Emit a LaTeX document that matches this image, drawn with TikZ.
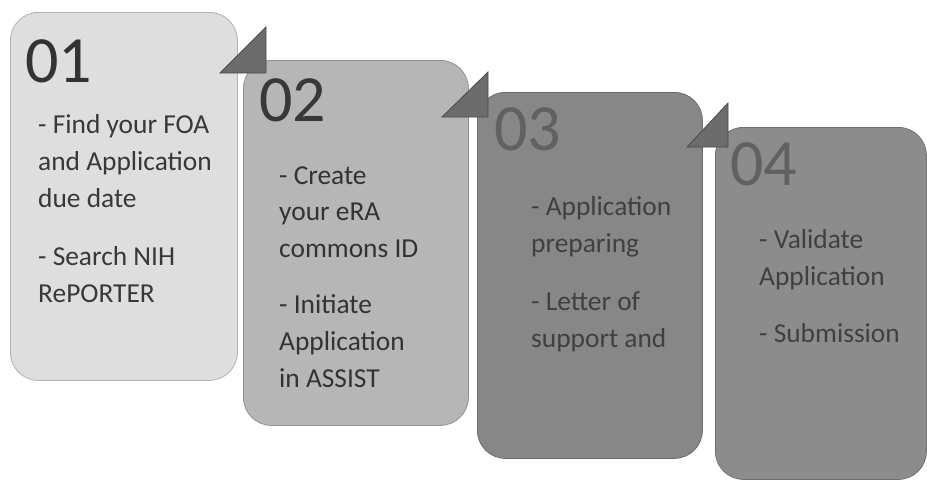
\documentclass[tikz,border=0pt]{standalone}
\usepackage{fontspec}
\setmainfont{Carlito}
\begin{document}
\begin{tikzpicture}[x=1pt,y=-1pt,
  stepbox/.style={draw=#1!80!black, line width=0.8pt, rounded corners=28pt, anchor=north west, inner sep=0pt},
  num/.style={anchor=base west, inner sep=0pt, font=\fontsize{66}{66}\selectfont},
  body/.style={anchor=base west, inner sep=0pt, align=left, font=\fontsize{27.4}{36.8}\selectfont},
  tri/.style={fill=tric, draw=black!70, line width=0.8pt, line join=miter}
]
\definecolor{c1}{HTML}{DEDEDE}
\definecolor{c2}{HTML}{B6B6B6}
\definecolor{c3}{HTML}{878787}
\definecolor{c4}{HTML}{8C8C8C}
\definecolor{tric}{HTML}{6C6C6C}
\useasboundingbox (0,0) rectangle (927,480);
\fill[white] (0,0) rectangle (927,480);
% boxes
\node[stepbox=c1, fill=c1, minimum width=227pt, minimum height=368pt] (b1) at (10,12) {};
\node[stepbox=c2, fill=c2, minimum width=225pt, minimum height=365pt] (b2) at (243,60) {};
\node[stepbox=c3, fill=c3, minimum width=225pt, minimum height=366pt] (b3) at (477,92) {};
\node[stepbox=c4, fill=c4, minimum width=211pt, minimum height=352pt] (b4) at (715,127) {};
% triangles
\coordinate (t1) at (266,73);
\coordinate (t2) at (488,117);
\coordinate (t3) at (728,147);
\filldraw[tri] (t1) -- ++(-46,0) -- ++(46,-46) -- cycle;
\filldraw[tri] (t2) -- ++(-46,0) -- ++(46,-45) -- cycle;
\filldraw[tri] (t3) -- ++(-41,0) -- ++(41,-44) -- cycle;
% numbers
\node[num, text=black!80] (n1) at (25,82) {01};
\node[num, text=black!78] (n2) at (259,121) {02};
\node[num, text=black!62] (n3) at (494,150) {03};
\node[num, text=black!62] (n4) at (730,185) {04};
% bodies (anchored at the baseline of their last line)
\node[body, text=black!78] (x1) at (38,302) {- Find your FOA\\and Application\\due date\\[21pt]- Search NIH\\RePORTER};
\node[body, text=black!80] (x2) at (279,387) {- Create\\your eRA\\commons ID\\[19pt]- Initiate\\Application\\in ASSIST};
\node[body, text=black!75] (x3) at (531,347) {- Application\\preparing\\[21pt]- Letter of\\support and};
\node[body, text=black!75] (x4) at (759,342) {- Validate\\Application\\[20pt]- Submission};
\end{tikzpicture}
\end{document}
